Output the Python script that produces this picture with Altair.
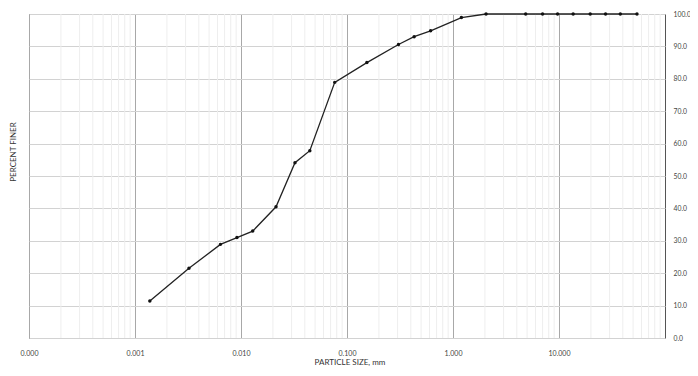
import altair as alt
import pandas as pd

# particle size (mm) and percent finer
sizes = [0.00138, 0.00323, 0.0064, 0.00916, 0.0129, 0.0214, 0.0323, 0.0446,
         0.0766, 0.154, 0.306, 0.43, 0.615, 1.2, 2.05, 4.85, 7.0, 9.7,
         13.6, 19.7, 27.5, 37.9, 54.4]
percent = [11.4, 21.5, 28.9, 31.0, 33.0, 40.5, 54.1, 57.8,
           78.9, 85.0, 90.6, 93.0, 94.8, 98.9, 100.0, 100.0, 100.0, 100.0,
           100.0, 100.0, 100.0, 100.0, 100.0]

x_ticks = [0.0001, 0.001, 0.01, 0.1, 1.0, 10.0]
y_ticks = [0, 10, 20, 30, 40, 50, 60, 70, 80, 90, 100]
minor = [m * d for d in [0.0001, 0.001, 0.01, 0.1, 1.0, 10.0] for m in range(2, 10)]

df = pd.DataFrame({"size": sizes, "pct": percent})
minor_df = pd.DataFrame({"size": minor})
ytitle_df = pd.DataFrame({"t": ["PERCENT FINER"]})
xtitle_df = pd.DataFrame({"t": ["PARTICLE SIZE, mm"]})

FONT = "Lato"
xscale = alt.Scale(type="log", domain=[0.0001, 100], nice=False)
yscale = alt.Scale(domain=[0, 100], nice=False)

xaxis = alt.Axis(
    values=x_ticks, labelExpr="format(datum.value, '.3f')", grid=True,
    gridColor="#a8a8a8", gridWidth=1, ticks=False, domain=False,
    labelFont=FONT, labelFontSize=7, labelColor="#444", labelPadding=11,
    title=None, labelFlush=False, labelOverlap=False,
)
yaxis = alt.Axis(
    orient="right", values=y_ticks, format=".1f", grid=True,
    gridColor="#d2d2d2", gridWidth=1, ticks=False, domain=False,
    labelFont=FONT, labelFontSize=6.8, labelColor="#444", labelPadding=8,
    labelAlign="left", title=None, labelFlush=False, labelOverlap=False,
)

minor_rules = alt.Chart(minor_df).mark_rule(color="#eeeeee", strokeWidth=1).encode(
    x=alt.X("size:Q", scale=xscale, axis=xaxis)
)
line = alt.Chart(df).mark_line(color="#222", strokeWidth=1.3, clip=False).encode(
    x=alt.X("size:Q", scale=xscale, axis=xaxis),
    y=alt.Y("pct:Q", scale=yscale, axis=yaxis),
)
pts = alt.Chart(df).mark_circle(color="#111", size=12, opacity=1, clip=False).encode(
    x=alt.X("size:Q", scale=xscale, axis=xaxis),
    y=alt.Y("pct:Q", scale=yscale, axis=yaxis),
)
ytitle = alt.Chart(ytitle_df).mark_text(
    angle=270, font=FONT, fontSize=8, color="#333", align="center", baseline="middle"
).encode(text="t:N", x=alt.value(-15), y=alt.value(138))
xtitle = alt.Chart(xtitle_df).mark_text(
    font=FONT, fontSize=8, color="#333", align="center", baseline="alphabetic"
).encode(text="t:N", x=alt.value(321), y=alt.value(351))

chart = alt.layer(minor_rules, line, pts, ytitle, xtitle).properties(
    width=636, height=324,
    autosize=alt.AutoSizeParams(type="none"),
    padding={"left": 21, "top": 6, "right": 25, "bottom": 30},
    background="white",
).configure_view(stroke="#555", strokeWidth=1)

chart.save("out.html", embed_options={"renderer": "svg", "actions": False})
